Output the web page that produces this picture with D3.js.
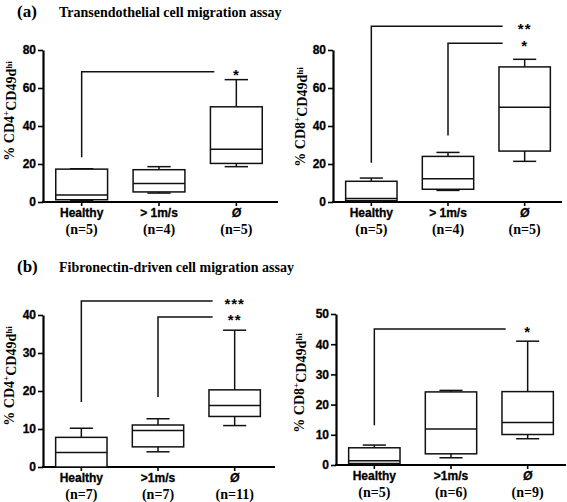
<!DOCTYPE html>
<html><head><meta charset="utf-8">
<script src="https://cdn.jsdelivr.net/npm/d3@7"></script>
<style>body{margin:0;background:#fff}svg{display:block}</style>
</head><body><svg id="c" width="567" height="502"></svg>
<script>
// ---- data ----
const groupsA = ["Healthy", "> 1m/s", "Ø"];
const groupsB = ["Healthy", ">1m/s", "Ø"];
const nA1 = ["(n=5)", "(n=4)", "(n=5)"];
const nA2 = ["(n=5)", "(n=4)", "(n=5)"];
const nB1 = ["(n=7)", "(n=7)", "(n=11)"];
const nB2 = ["(n=5)", "(n=6)", "(n=9)"];
// [min, q1, median, q3, max]
const statsA1 = [[0.7, 1.2, 3.7, 17.3, 17.5], [4.7, 5.3, 9.8, 17.0, 18.6], [18.6, 20.3, 27.7, 50.1, 64.4]];
const statsA2 = [[0.3, 0.7, 1.9, 10.9, 12.6], [6.1, 6.7, 12.3, 24.0, 26.1], [21.4, 26.8, 49.9, 71.1, 75.1]];
const statsB1 = [[0, 0, 3.8, 7.8, 10.2], [4.0, 5.3, 9.6, 11.05, 12.7], [10.9, 13.3, 16.2, 20.3, 36.0]];
const statsB2 = [[0.3, 0.5, 1.4, 5.7, 6.6], [2.4, 3.7, 11.9, 24.2, 24.7], [8.7, 10.1, 14.1, 24.3, 41.0]];
const ticksA = [0, 20, 40, 60, 80];
const ticksB1 = [0, 10, 20, 30, 40];
const ticksB2 = [0, 10, 20, 30, 40, 50];
// significance brackets: from group index, low & high y values, label
const sigA1 = [{g: 0, lo: 23.6, hi: 68.6, label: "*"}];
const sigA2 = [{g: 0, lo: 20.6, hi: 92.5, label: "**"}, {g: 1, lo: 35, hi: 83.5, label: "*"}];
const sigB1 = [{g: 0, lo: 17.1, hi: 43.7, label: "***"}, {g: 1, lo: 18.4, hi: 39.5, label: "**"}];
const sigB2 = [{g: 0, lo: 13.2, hi: 45, label: "*"}];
const titleA = "Transendothelial cell migration assay";
const titleB = "Fibronectin-driven cell migration assay";

const svg = d3.select("#c");
const serif = "'Liberation Serif','Times New Roman',serif";
const sans = "'Liberation Sans',Arial,sans-serif";

function panel(o) {
  const g = svg.append("g");
  const y = d3.scaleLinear().domain([0, o.ymax]).range([o.y0, o.y1]);
  const x = d3.scaleBand().domain(o.groups).range([o.x0, o.x1]).paddingInner(0.33).paddingOuter(0.165);
  const bw = x.bandwidth();
  const cx = d => x(d) + bw / 2;

  // y axis
  const ya = g.append("g").attr("transform", `translate(${o.x0},0)`)
    .call(d3.axisLeft(y).tickValues(o.ticks).tickSize(5).tickPadding(2).tickSizeOuter(0));
  ya.select(".domain").attr("stroke", "#000").attr("stroke-width", 2.2);
  ya.selectAll(".tick line").attr("stroke", "#000").attr("stroke-width", 1.6);
  ya.selectAll("text").attr("font-family", sans).attr("font-weight", "bold").attr("font-size", 12).attr("fill", "#000")
    .attr("stroke", "#000").attr("stroke-width", 0.3);
  // x axis
  const xa = g.append("g").attr("transform", `translate(0,${o.y0})`)
    .call(d3.axisBottom(x).tickSize(4).tickSizeOuter(0).tickFormat(""));
  xa.select(".domain").attr("stroke", "#000").attr("stroke-width", 2.2).attr("d", `M${o.x0 - 1},0H${o.xend}`);
  xa.selectAll(".tick line").attr("stroke", "#000").attr("stroke-width", 1.6);
  // x labels
  o.groups.forEach((d, i) => {
    g.append("text").attr("x", cx(d)).attr("y", o.y0 + 15).attr("text-anchor", "middle")
      .attr("font-family", sans).attr("font-weight", "bold").attr("font-size", 12)
      .attr("stroke", "#000").attr("stroke-width", 0.3)
      .attr("font-style", d === "Ø" ? "italic" : "normal").text(d);
    g.append("text").attr("x", cx(d)).attr("y", o.y0 + 32).attr("text-anchor", "middle")
      .attr("font-family", serif).attr("font-weight", "bold").attr("font-size", 14).text(o.ns[i]);
  });
  // boxes
  o.stats.forEach((s, i) => {
    const c = cx(o.groups[i]);
    const cw = bw * 0.45;
    const bg = g.append("g").attr("stroke", "#111").attr("stroke-width", 1.5).attr("fill", "none");
    bg.append("line").attr("x1", c).attr("x2", c).attr("y1", y(s[0])).attr("y2", y(s[1]));
    bg.append("line").attr("x1", c).attr("x2", c).attr("y1", y(s[3])).attr("y2", y(s[4]));
    bg.append("line").attr("x1", c - cw / 2).attr("x2", c + cw / 2).attr("y1", y(s[0])).attr("y2", y(s[0]));
    bg.append("line").attr("x1", c - cw / 2).attr("x2", c + cw / 2).attr("y1", y(s[4])).attr("y2", y(s[4]));
    bg.append("rect").attr("x", x(o.groups[i])).attr("width", bw).attr("y", y(s[3])).attr("height", y(s[1]) - y(s[3])).attr("fill", "#fff");
    bg.append("line").attr("x1", x(o.groups[i])).attr("x2", x(o.groups[i]) + bw).attr("y1", y(s[2])).attr("y2", y(s[2]));
  });
  // significance
  o.sig.forEach(s => {
    const xs = cx(o.groups[s.g]);
    const xe = cx(o.groups[2]) - 22;
    g.append("path").attr("d", `M${xs},${y(s.lo)}V${y(s.hi)}H${xe}`)
      .attr("fill", "none").attr("stroke", "#111").attr("stroke-width", 1.5);
    g.append("text").attr("x", cx(o.groups[2])).attr("y", y(s.hi) + 8).attr("text-anchor", "middle")
      .attr("font-family", sans).attr("font-weight", "bold").attr("font-size", 15).attr("letter-spacing", 1).text(s.label);
  });
  // y label
  const t = g.append("text").attr("transform", `translate(${o.lx},${o.ly}) rotate(-90)`)
    .attr("text-anchor", "middle").attr("dy", "0.35em")
    .attr("font-family", serif).attr("font-weight", "bold").attr("font-size", 14);
  t.append("tspan").text("% CD" + o.cd);
  t.append("tspan").attr("font-size", 9).attr("dy", "-0.5em").text("+");
  t.append("tspan").attr("dy", "0.5em").text("CD49d");
  t.append("tspan").attr("font-size", 9).attr("dy", "-0.5em").text("hi");
}

panel({groups: groupsA, ns: nA1, stats: statsA1, ticks: ticksA, sig: sigA1, ymax: 80, cd: 4,
  x0: 43, x1: 275, xend: 278, y0: 202, y1: 50, lx: 9, ly: 111});
panel({groups: groupsA, ns: nA2, stats: statsA2, ticks: ticksA, sig: sigA2, ymax: 80, cd: 8,
  x0: 333, x1: 563, xend: 562, y0: 202, y1: 50, lx: 300, ly: 117});
panel({groups: groupsB, ns: nB1, stats: statsB1, ticks: ticksB1, sig: sigB1, ymax: 40, cd: 4,
  x0: 43, x1: 273, xend: 275, y0: 467, y1: 315, lx: 9, ly: 376});
panel({groups: groupsB, ns: nB2, stats: statsB2, ticks: ticksB2, sig: sigB2, ymax: 50, cd: 8,
  x0: 336, x1: 566, xend: 566, y0: 465, y1: 314, lx: 299, ly: 383});

// titles
svg.append("text").attr("x", 17).attr("y", 17).attr("font-family", serif).attr("font-weight", "bold").attr("font-size", 17).text("(a)");
svg.append("text").attr("x", 59).attr("y", 17).attr("font-family", serif).attr("font-weight", "bold").attr("font-size", 14).text(titleA);
svg.append("text").attr("x", 17).attr("y", 272).attr("font-family", serif).attr("font-weight", "bold").attr("font-size", 17).text("(b)");
svg.append("text").attr("x", 59).attr("y", 272).attr("font-family", serif).attr("font-weight", "bold").attr("font-size", 14).text(titleB);
</script></body></html>
